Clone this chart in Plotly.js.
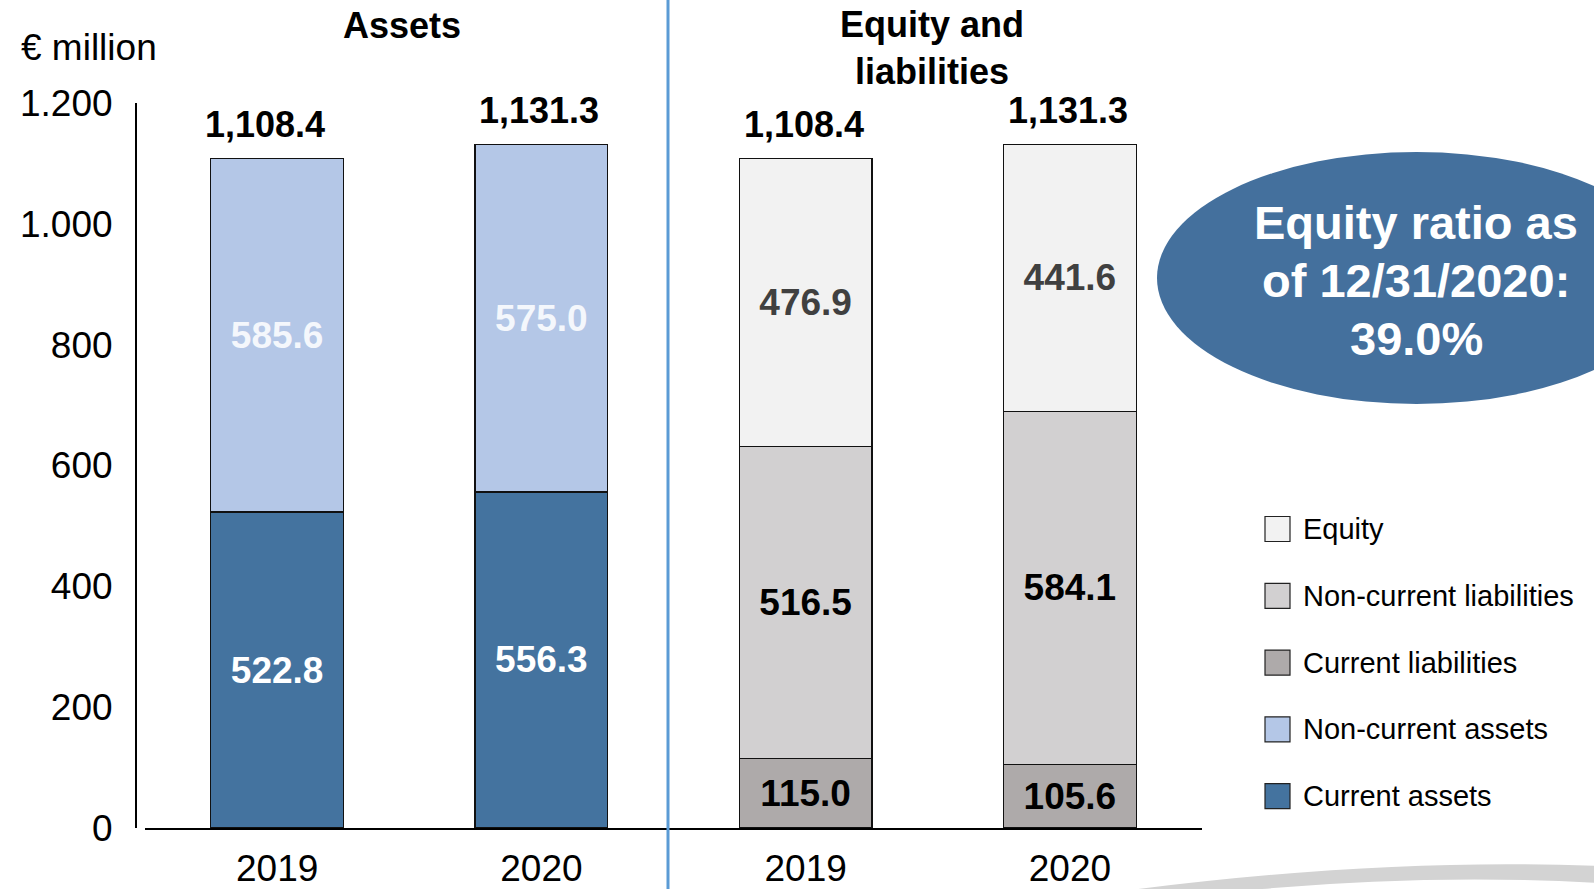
<!DOCTYPE html>
<html>
<head>
<meta charset="utf-8">
<script src="https://cdn.plot.ly/plotly-3.0.1.min.js"></script>
<style>html,body{margin:0;padding:0;background:#fff;}#chart{width:1594px;height:889px;}</style>
</head>
<body>
<div id="chart"></div>
<script>
// ---- data ----
const years = ['2019', '2020'];
const assetCats = ['Assets 2019', 'Assets 2020'];
const liabCats = ['Equity 2019', 'Equity 2020'];
const currentAssets = [522.8, 556.3];
const nonCurrentAssets = [585.6, 575.0];
const currentLiabilities = [115.0, 105.6];
const nonCurrentLiabilities = [516.5, 584.1];
const equity = [476.9, 441.6];
const groupTitles = ['Assets', 'Equity and<br>liabilities'];
const yTickVals = [0, 200, 400, 600, 800, 1000, 1200];
const yTickText = ['0', '200', '400', '600', '800', '1.000', '1.200'];
const legendNames = ['Equity', 'Non-current liabilities', 'Current liabilities', 'Non-current assets', 'Current assets'];
const ratioLines = ['Equity ratio as', 'of 12/31/2020:', '39.0%'];

// ---- styles ----
const C = {
  currentAssets: '#44739F',
  nonCurrentAssets: '#B4C7E7',
  currentLiabilities: '#AEAAAA',
  nonCurrentLiabilities: '#D2D0D1',
  equity: '#F2F2F2'
};
const legendColors = [C.equity, C.nonCurrentLiabilities, C.currentLiabilities, C.nonCurrentAssets, C.currentAssets];
const FONT = 'Liberation Sans, Arial, sans-serif';
const W = 1594, H = 889, ML = 135, MR = 392, MT = 103, MB = 61;
const PW = W - ML - MR, PH = H - MT - MB;
const px2x = p => (p - ML) / PW;
const py2y = p => (H - MB - p) / PH;

function barTrace(name, x, y, color, textColor) {
  return {
    type: 'bar', name: name, x: x, y: y,
    text: y.map(v => v.toFixed(1)),
    textposition: 'inside', insidetextanchor: 'middle', constraintext: 'none',
    textfont: {family: FONT, size: 37, color: textColor, weight: 'bold'},
    marker: {color: color, line: {color: '#111', width: 1.3}},
    hoverinfo: 'name+y', showlegend: false
  };
}

const data = [
  barTrace('Current assets', assetCats, currentAssets, C.currentAssets, '#FFFFFF'),
  barTrace('Non-current assets', assetCats, nonCurrentAssets, C.nonCurrentAssets, '#F4F7FC'),
  barTrace('Current liabilities', liabCats, currentLiabilities, C.currentLiabilities, '#000000'),
  barTrace('Non-current liabilities', liabCats, nonCurrentLiabilities, C.nonCurrentLiabilities, '#000000'),
  barTrace('Equity', liabCats, equity, C.equity, '#404040')
];

const assetTotals = currentAssets.map((v, i) => Math.round((v + nonCurrentAssets[i]) * 10) / 10);
const liabTotals = currentLiabilities.map((v, i) => Math.round((v + nonCurrentLiabilities[i] + equity[i]) * 10) / 10);
const fmt = v => v.toLocaleString('en-US', {minimumFractionDigits: 1, maximumFractionDigits: 1});

const annotations = [];
const totalShift = [-12, -2];
assetCats.forEach((c, i) => annotations.push({
  x: c, y: assetTotals[i], xref: 'x', yref: 'y', text: fmt(assetTotals[i]), showarrow: false,
  yanchor: 'middle', yshift: 34, xshift: totalShift[i],
  font: {family: FONT, size: 36, color: '#000', weight: 'bold'}
}));
liabCats.forEach((c, i) => annotations.push({
  x: c, y: liabTotals[i], xref: 'x', yref: 'y', text: fmt(liabTotals[i]), showarrow: false,
  yanchor: 'middle', yshift: 34, xshift: -2,
  font: {family: FONT, size: 36, color: '#000', weight: 'bold'}
}));
// group titles
annotations.push({x: 0.5, y: py2y(25.5), xref: 'x', yref: 'paper', xshift: -7, text: groupTitles[0], showarrow: false,
  yanchor: 'middle', font: {family: FONT, size: 36, color: '#000', weight: 'bold'}});
annotations.push({x: 2.5, y: py2y(48), xref: 'x', yref: 'paper', xshift: -6, text: groupTitles[1], showarrow: false,
  yanchor: 'middle', font: {family: FONT, size: 36, color: '#000', weight: 'bold'}});
// unit
annotations.push({x: px2x(19), y: py2y(47), xref: 'paper', yref: 'paper', text: '€ million', showarrow: false,
  xanchor: 'left', yanchor: 'middle', font: {family: FONT, size: 37, color: '#000'}});
// ratio ellipse text
const ratioY = [222.6, 280.6, 338.5];
ratioLines.forEach((t, i) => annotations.push({x: px2x(1416), y: py2y(ratioY[i]), xref: 'paper', yref: 'paper',
  text: t, showarrow: false, xanchor: 'center', yanchor: 'middle',
  font: {family: FONT, size: 47, color: '#FFFFFF', weight: 'bold'}}));

const shapes = [
  // separator
  {type: 'line', xref: 'paper', yref: 'paper', x0: px2x(668), x1: px2x(668), y0: py2y(H), y1: py2y(0),
   line: {color: '#5B9BD5', width: 3}},
  // ellipse
  {type: 'circle', xref: 'paper', yref: 'paper', x0: px2x(1157), x1: px2x(1676), y0: py2y(404), y1: py2y(152),
   fillcolor: '#44709D', line: {width: 0}},
  // decorative swoosh
  {type: 'path', xref: 'paper', yref: 'paper', fillcolor: '#D3D3D3', line: {width: 0},
   path: 'M ' + px2x(1115) + ',' + py2y(892) + ' Q ' + px2x(1380) + ',' + py2y(857) + ' ' + px2x(1600) + ',' + py2y(866) +
         ' L ' + px2x(1600) + ',' + py2y(883) + ' Q ' + px2x(1420) + ',' + py2y(873) + ' ' + px2x(1230) + ',' + py2y(892) + ' Z'}
];

// manual legend
legendNames.forEach((n, i) => {
  const cy = 529 + i * 66.8;
  shapes.push({type: 'rect', xref: 'paper', yref: 'paper', x0: px2x(1265), x1: px2x(1290), y0: py2y(cy + 12.5), y1: py2y(cy - 12.5),
    fillcolor: legendColors[i], line: {color: '#222', width: 1.2}});
  annotations.push({x: px2x(1301), y: py2y(cy), xref: 'paper', yref: 'paper', text: n, showarrow: false,
    xanchor: 'left', yanchor: 'middle', font: {family: FONT, size: 29, color: '#000'}});
});

const layout = {
  width: W, height: H,
  margin: {l: ML, r: MR, t: MT, b: MB, pad: 0},
  paper_bgcolor: '#FFFFFF', plot_bgcolor: '#FFFFFF',
  barmode: 'stack', bargap: 0.497,
  showlegend: false,
  font: {family: FONT, color: '#000'},
  xaxis: {
    domain: [10 / PW, 1], type: 'category',
    categoryorder: 'array', categoryarray: assetCats.concat(liabCats),
    tickvals: assetCats.concat(liabCats), ticktext: years.concat(years),
    range: [-0.5, 3.5], showline: true, linecolor: '#000', linewidth: 1.5,
    ticks: '', showgrid: false, zeroline: false, ticklabelstandoff: 7,
    tickfont: {family: FONT, size: 37, color: '#000'}
  },
  yaxis: {
    range: [0, 1200], anchor: 'free', position: 0,
    tickvals: yTickVals, ticktext: yTickText,
    showline: true, linecolor: '#000', linewidth: 1.5,
    ticks: '', showgrid: false, zeroline: false, ticklabelstandoff: 15,
    tickfont: {family: FONT, size: 37, color: '#000'}
  },
  annotations: annotations,
  shapes: shapes
};

Plotly.newPlot('chart', data, layout, {displayModeBar: false, staticPlot: true});
</script>
</body>
</html>
